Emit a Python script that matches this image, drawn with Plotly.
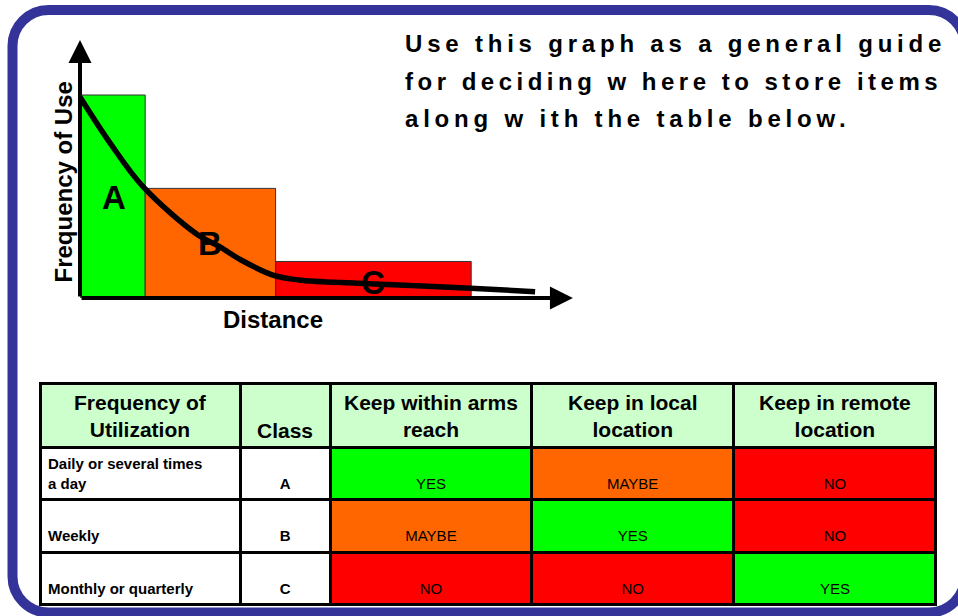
import plotly.graph_objects as go

# ---------------- chart data ----------------
classes = ["A", "B", "C"]
class_distance_start = [0, 1, 3]
class_distance_end = [1, 3, 6]
class_frequency = [10, 5.4, 1.8]
class_colors = ["#00ff00", "#ff6600", "#ff0000"]

curve_distance = [0, 0.46, 0.97, 1.81, 2.14, 2.47, 2.96, 3.35, 4.34, 5.99, 6.98]
curve_frequency = [9.9, 7.64, 5.47, 3.10, 2.53, 1.87, 1.13, 0.89, 0.72, 0.48, 0.31]

label_distance = [0.515, 2.0, 4.5]
label_frequency = [4.94, 2.66, 0.76]

x_axis_end = 7.56
y_axis_end = 12.71

title_lines = [
    "Use this graph as a general guide",
    "for deciding w here to store items",
    "along w ith the table below.",
]

# ---------------- table data ----------------
table_headers = [["Frequency of", "Utilization"], ["", "Class"], ["Keep within arms", "reach"],
                 ["Keep in local", "location"], ["Keep in remote", "location"]]
utilization = [["Daily or several times", "a day"], ["", "Weekly"], ["", "Monthly or quarterly"]]
table_classes = ["A", "B", "C"]
arms_reach = ["YES", "MAYBE", "NO"]
local_location = ["MAYBE", "YES", "NO"]
remote_location = ["NO", "NO", "YES"]
answer_colors = {"YES": "#00ff00", "MAYBE": "#ff6600", "NO": "#ff0000"}

# ---------------- layout helpers ----------------
W, H = 958, 616
FONT = "Arial, Liberation Sans, sans-serif"
NB = "\u00a0"

TABLE_LEFT, TABLE_RIGHT, TABLE_TOP, TABLE_BOTTOM = 40, 936, 383, 607
COLUMN_WIDTHS = [200, 90, 201, 202, 202]
HEADER_H = 64
ROW_H = 52


def px(x):
    return x / W


def py(y):
    return 1 - y / H


def two_lines(a, b, bold=False):
    a = a if a else NB
    if bold:
        return "<b>%s</b><br><b>%s</b>" % (a, b)
    return "%s<br>%s" % (a, b)


fig = go.Figure()

# bars
for c, s, e, f, col in zip(classes, class_distance_start, class_distance_end, class_frequency, class_colors):
    fig.add_trace(go.Bar(
        x=[(s + e) / 2], y=[f], width=[e - s], name=c,
        marker=dict(color=col, line=dict(color="#333333", width=1)),
        xaxis="x", yaxis="y", hoverinfo="skip",
    ))

# curve
fig.add_trace(go.Scatter(
    x=curve_distance, y=curve_frequency, mode="lines",
    line=dict(color="black", width=5.5, shape="spline", smoothing=1.0),
    cliponaxis=False, hoverinfo="skip", xaxis="x", yaxis="y",
))

# class letters
for c, lx, ly in zip(classes, label_distance, label_frequency):
    fig.add_annotation(x=lx, y=ly, xref="x", yref="y", text="<b>%s</b>" % c, showarrow=False,
                       xanchor="center", yanchor="middle",
                       font=dict(family=FONT, size=33, color="black"))

# axis arrows
fig.add_annotation(x=0, y=y_axis_end, ax=0, ay=0, xref="x", yref="y", axref="x", ayref="y",
                   text="", showarrow=True, arrowhead=2, arrowsize=1.15, arrowwidth=4,
                   arrowcolor="black", standoff=0, startstandoff=0)
fig.add_annotation(x=x_axis_end, y=0, ax=0, ay=0, xref="x", yref="y", axref="x", ayref="y",
                   text="", showarrow=True, arrowhead=2, arrowsize=1.15, arrowwidth=4,
                   arrowcolor="black", standoff=0, startstandoff=0)

# axis titles
fig.add_annotation(x=px(63), y=py(182.5), xref="paper", yref="paper", text="<b>Frequency of Use</b>",
                   textangle=-90, showarrow=False, xanchor="center", yanchor="middle",
                   font=dict(family=FONT, size=24, color="black"))
fig.add_annotation(x=px(272.5), y=py(319), xref="paper", yref="paper", text="<b>Distance</b>",
                   showarrow=False, xanchor="center", yanchor="middle",
                   font=dict(family=FONT, size=24, color="black"))

# title text
letter_spacing = [4.8, 4.5, 4.8]
for i, line in enumerate(title_lines):
    fig.add_annotation(x=px(403), y=py(44 + 37 * i), xref="paper", yref="paper", xanchor="left",
                       yanchor="middle",
                       text='<span style="letter-spacing:%.1fpx"><b>%s</b></span>' % (letter_spacing[i], line),
                       showarrow=False, font=dict(family=FONT, size=24, color="black"))

# table body
col1 = [two_lines(a, b, bold=True) for a, b in utilization]
col2 = [two_lines("", c, bold=True) for c in table_classes]
col3 = [two_lines("", v) for v in arms_reach]
col4 = [two_lines("", v) for v in local_location]
col5 = [two_lines("", v) for v in remote_location]

fills = [["white"] * 3, ["white"] * 3,
         [answer_colors[v] for v in arms_reach],
         [answer_colors[v] for v in local_location],
         [answer_colors[v] for v in remote_location]]

fig.add_trace(go.Table(
    domain=dict(x=[px(TABLE_LEFT), px(TABLE_RIGHT)], y=[py(TABLE_BOTTOM), py(TABLE_TOP)]),
    columnwidth=COLUMN_WIDTHS,
    header=dict(values=[""] * len(table_headers),
                fill=dict(color="#ccffcc"), line=dict(color="black", width=3),
                align="center", height=HEADER_H,
                font=dict(family=FONT, size=21, color="black")),
    cells=dict(values=[col1, col2, col3, col4, col5],
               fill=dict(color=fills), line=dict(color="black", width=3),
               align=["left", "center", "center", "center", "center"], height=ROW_H,
               font=dict(family=FONT, size=15, color="black")),
))

# header texts, each line centred in its column
scale = (TABLE_RIGHT - TABLE_LEFT) / sum(COLUMN_WIDTHS)
left = TABLE_LEFT
for (a, b), w in zip(table_headers, COLUMN_WIDTHS):
    cx = left + w * scale / 2
    left += w * scale
    if a:
        txt, cy = "<b>%s</b><br><b>%s</b>" % (a, b), TABLE_TOP + 33
    else:
        txt, cy = "<b>%s</b>" % b, TABLE_TOP + 47
    fig.add_annotation(x=px(cx), y=py(cy), xref="paper", yref="paper", text=txt, align="center",
                       xanchor="center", yanchor="middle", showarrow=False,
                       font=dict(family=FONT, size=21, color="black"))

# rounded blue frame
L, T, R, B, r = 12.5, 10, 965, 612.5, 36
k = 0.5523 * r
pts = [
    ("M", [(L + r, T)]),
    ("L", [(R - r, T)]),
    ("C", [(R - r + k, T), (R, T + r - k), (R, T + r)]),
    ("L", [(R, B - r)]),
    ("C", [(R, B - r + k), (R - r + k, B), (R - r, B)]),
    ("L", [(L + r, B)]),
    ("C", [(L + r - k, B), (L, B - r + k), (L, B - r)]),
    ("L", [(L, T + r)]),
    ("C", [(L, T + r - k), (L + r - k, T), (L + r, T)]),
]
path = ""
for cmd, ps in pts:
    path += cmd + " " + " ".join("%.5f,%.5f" % (px(a), py(b)) for a, b in ps) + " "
path += "Z"
fig.add_shape(type="path", path=path, xref="paper", yref="paper",
              line=dict(color="#333399", width=10), fillcolor="rgba(0,0,0,0)", layer="above")

fig.update_layout(
    width=W, height=H, margin=dict(l=0, r=0, t=0, b=0),
    paper_bgcolor="white", plot_bgcolor="rgba(0,0,0,0)",
    showlegend=False, barmode="overlay",
    xaxis=dict(domain=[px(80), px(80 + 8 * 65.2)], range=[0, 8], visible=False, fixedrange=True),
    yaxis=dict(domain=[py(298), py(298 - 13 * 20.3)], range=[0, 13], visible=False, fixedrange=True),
)

fig.write_html("out.html", config={"displayModeBar": False},
               post_script="document.body.style.margin='0px';document.body.style.padding='0px';")
